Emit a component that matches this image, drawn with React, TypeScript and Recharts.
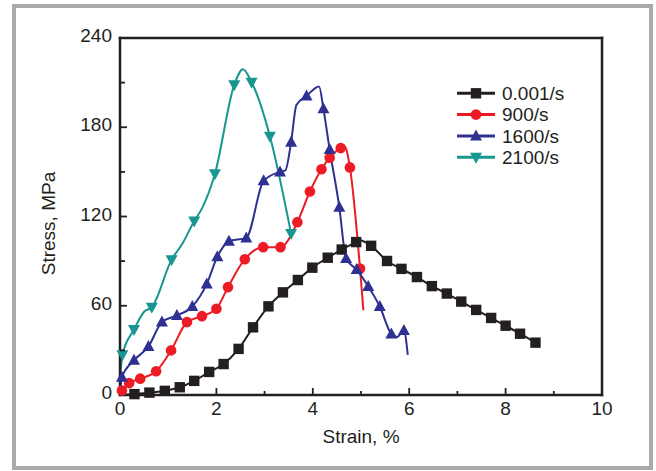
import { LineChart, Line, XAxis, YAxis, ReferenceLine } from 'recharts';

const ink = '#231f20';
const font = 'Arial, "Liberation Sans", sans-serif';

const xTicks = [0, 1, 2, 3, 4, 5, 6, 7, 8, 9, 10];
const yTicks = [0, 30, 60, 90, 120, 150, 180, 210, 240];

// 0.001/s  (marked points, then extra bends of the curve without a marker)
const quasiStrain = [0.3, 0.61, 0.93, 1.24, 1.54, 1.85, 2.15, 2.46, 2.76, 3.08, 3.38, 3.69, 3.99, 4.31, 4.6, 4.9, 5.21, 5.54, 5.84, 6.16, 6.47, 6.78, 7.08, 7.39, 7.7, 8.0, 8.3, 8.62];
const quasiStress = [0.6, 1.6, 2.8, 5.2, 9.5, 15.5, 20.8, 31, 45.5, 59.6, 69, 77.3, 85.6, 92.3, 97.8, 102.8, 100.3, 90.1, 84.8, 79.3, 73.2, 68.2, 62.8, 57.2, 51.8, 46.6, 41.2, 35.2];
const quasiBendStrain = [0, 4.97];
const quasiBendStress = [0, 104];

// 900/s
const r900Strain = [0.04, 0.19, 0.42, 0.75, 1.06, 1.39, 1.7, 2.0, 2.24, 2.59, 2.97, 3.33, 3.68, 3.94, 4.18, 4.35, 4.58, 4.77, 4.98];
const r900Stress = [3, 8, 11, 16, 30, 49, 53, 58, 72.5, 91.3, 99.4, 99.4, 116.2, 136.8, 151.8, 159.5, 166, 153, 85];
const r900BendStrain = [0, 4.66, 5.05];
const r900BendStress = [0, 167, 57];

// 1600/s
const r1600Strain = [0.04, 0.29, 0.59, 0.87, 1.18, 1.5, 1.8, 2.02, 2.26, 2.62, 2.98, 3.32, 3.55, 3.87, 4.22, 4.35, 4.55, 4.69, 4.91, 5.15, 5.39, 5.63, 5.89];
const r1600Stress = [12, 23.3, 32.6, 49, 53.5, 59.5, 74.7, 93, 103.4, 105.6, 144, 150, 170, 201, 192.4, 165, 126.3, 91.7, 84.3, 73, 59.5, 41, 43.4];
const r1600BendStrain = [0, 3.43, 3.66, 4.13, 5.75, 5.97];
const r1600BendStress = [3, 151, 195, 207.4, 39, 27];

// 2100/s
const r2100Strain = [0.05, 0.29, 0.66, 1.07, 1.54, 1.97, 2.37, 2.73, 3.11, 3.55];
const r2100Stress = [27, 44, 59, 91, 117, 148.7, 208.5, 210.3, 174, 108.5];
const r2100BendStrain = [0, 0.5, 1.3, 1.71, 2.55];
const r2100BendStress = [10, 56, 102, 126, 219];

const legendLabels = ['0.001/s', '900/s', '1600/s', '2100/s'];
const colors = [ink, '#ed1c24', '#2e3192', '#17978f'];

type Pt = { x: number; y: number; marked: boolean };

function build(ms: number[], mv: number[], bs: number[], bv: number[]): Pt[] {
  const pts = ms.map((x, i) => ({ x, y: mv[i], marked: true }))
    .concat(bs.map((x, i) => ({ x, y: bv[i], marked: false })));
  return pts.sort((a, b) => a.x - b.x);
}

const series = [
  build(quasiStrain, quasiStress, quasiBendStrain, quasiBendStress),
  build(r900Strain, r900Stress, r900BendStrain, r900BendStress),
  build(r1600Strain, r1600Stress, r1600BendStrain, r1600BendStress),
  build(r2100Strain, r2100Stress, r2100BendStrain, r2100BendStress),
];

function Marker({ kind, cx, cy, color }: { kind: number; cx: number; cy: number; color: string }) {
  if (kind === 0) return <rect x={cx - 5.2} y={cy - 5.2} width={10.4} height={10.4} fill={color} />;
  if (kind === 1) return <circle cx={cx} cy={cy} r={5.3} fill={color} />;
  if (kind === 2) return <polygon points={`${cx},${cy - 6.5} ${cx - 6},${cy + 4.5} ${cx + 6},${cy + 4.5}`} fill={color} />;
  return <polygon points={`${cx},${cy + 6.5} ${cx - 6},${cy - 4.5} ${cx + 6},${cy - 4.5}`} fill={color} />;
}

const dotFor = (kind: number) => (p: any) => {
  if (!p.payload || !p.payload.marked) return <g key={`n${kind}-${p.index}`} />;
  return <g key={`d${kind}-${p.index}`}><Marker kind={kind} cx={p.cx} cy={p.cy} color={colors[kind]} /></g>;
};

const XTick = (p: any) => {
  const v = p.payload.value;
  const axisY = p.y - 7;
  const major = v % 2 === 0;
  return (
    <g>
      {v > 0 && v < 10 && (
        <line x1={p.x} x2={p.x} y1={axisY} y2={axisY - (major ? 7 : 4)} stroke={ink} strokeWidth={1.8} />
      )}
      {major && (
        <text x={p.x} y={p.y} dy="0.71em" textAnchor="middle" fill={ink} fontSize={19} fontFamily={font}>{v}</text>
      )}
    </g>
  );
};

const YTick = (p: any) => {
  const v = p.payload.value;
  const axisX = p.x + 8;
  const major = v % 60 === 0;
  return (
    <g>
      {v > 0 && v < 240 && (
        <line x1={axisX} x2={axisX + (major ? 7 : 5)} y1={p.y} y2={p.y} stroke={ink} strokeWidth={1.8} />
      )}
      {major && (
        <text x={p.x} y={p.y} dy={4} textAnchor="end" fill={ink} fontSize={19} fontFamily={font}>{v}</text>
      )}
    </g>
  );
};

const YLabel = (p: any) => {
  const vb = p.viewBox;
  const cx = vb.x + 48;
  const cy = vb.y + vb.height / 2 + 7;
  return (
    <text x={cx} y={cy} transform={`rotate(-90 ${cx} ${cy})`} textAnchor="middle" dominantBaseline="central"
      fill={ink} fontSize={19} fontFamily={font}>Stress, MPa</text>
  );
};

export default function App() {
  return (
    <div style={{ position: 'absolute', left: 0, top: 0, width: 656, height: 471, background: '#fff' }}>
      <div style={{ position: 'absolute', left: 12, top: 4, width: 641, height: 466, border: '4px solid #a7a9ac', boxSizing: 'border-box' }} />
      <LineChart width={656} height={471} margin={{ top: 38, right: 54, bottom: 0, left: 0 }}>
        <XAxis dataKey="x" type="number" domain={[0, 10]} ticks={xTicks} interval={0} height={76}
          tickSize={6} tickMargin={1} tickLine={false} tick={<XTick />}
          axisLine={{ stroke: ink, strokeWidth: 2.5, strokeLinecap: 'square' }}
          label={{ value: 'Strain, %', position: 'insideBottom', offset: 28, fill: ink, fontSize: 19, fontFamily: font }} />
        <YAxis type="number" domain={[0, 240]} ticks={yTicks} interval={0} width={120}
          tickSize={6} tickMargin={2} tickLine={false} tick={<YTick />}
          axisLine={{ stroke: ink, strokeWidth: 2.5, strokeLinecap: 'square' }}
          label={<YLabel />} />
        <ReferenceLine y={240} stroke={ink} strokeWidth={2.5} strokeLinecap="square" />
        <ReferenceLine x={10} stroke={ink} strokeWidth={2.5} strokeLinecap="square" />
        {series.map((data, i) => (
          <Line key={legendLabels[i]} data={data} dataKey="y" type="monotone" stroke={colors[i]} strokeWidth={2}
            dot={dotFor(i)} activeDot={false} isAnimationActive={false} />
        ))}
      </LineChart>
      <svg width={656} height={471} style={{ position: 'absolute', left: 0, top: 0, pointerEvents: 'none' }}>
        {legendLabels.map((label, i) => {
          const y = 93.3 + i * 21.3;
          return (
            <g key={label}>
              <line x1={457} x2={495} y1={y} y2={y} stroke={colors[i]} strokeWidth={3} />
              <Marker kind={i} cx={476} cy={y} color={colors[i]} />
              <text x={502} y={y + 6.8} fill={ink} fontSize={19} fontFamily={font}>{label}</text>
            </g>
          );
        })}
      </svg>
    </div>
  );
}
